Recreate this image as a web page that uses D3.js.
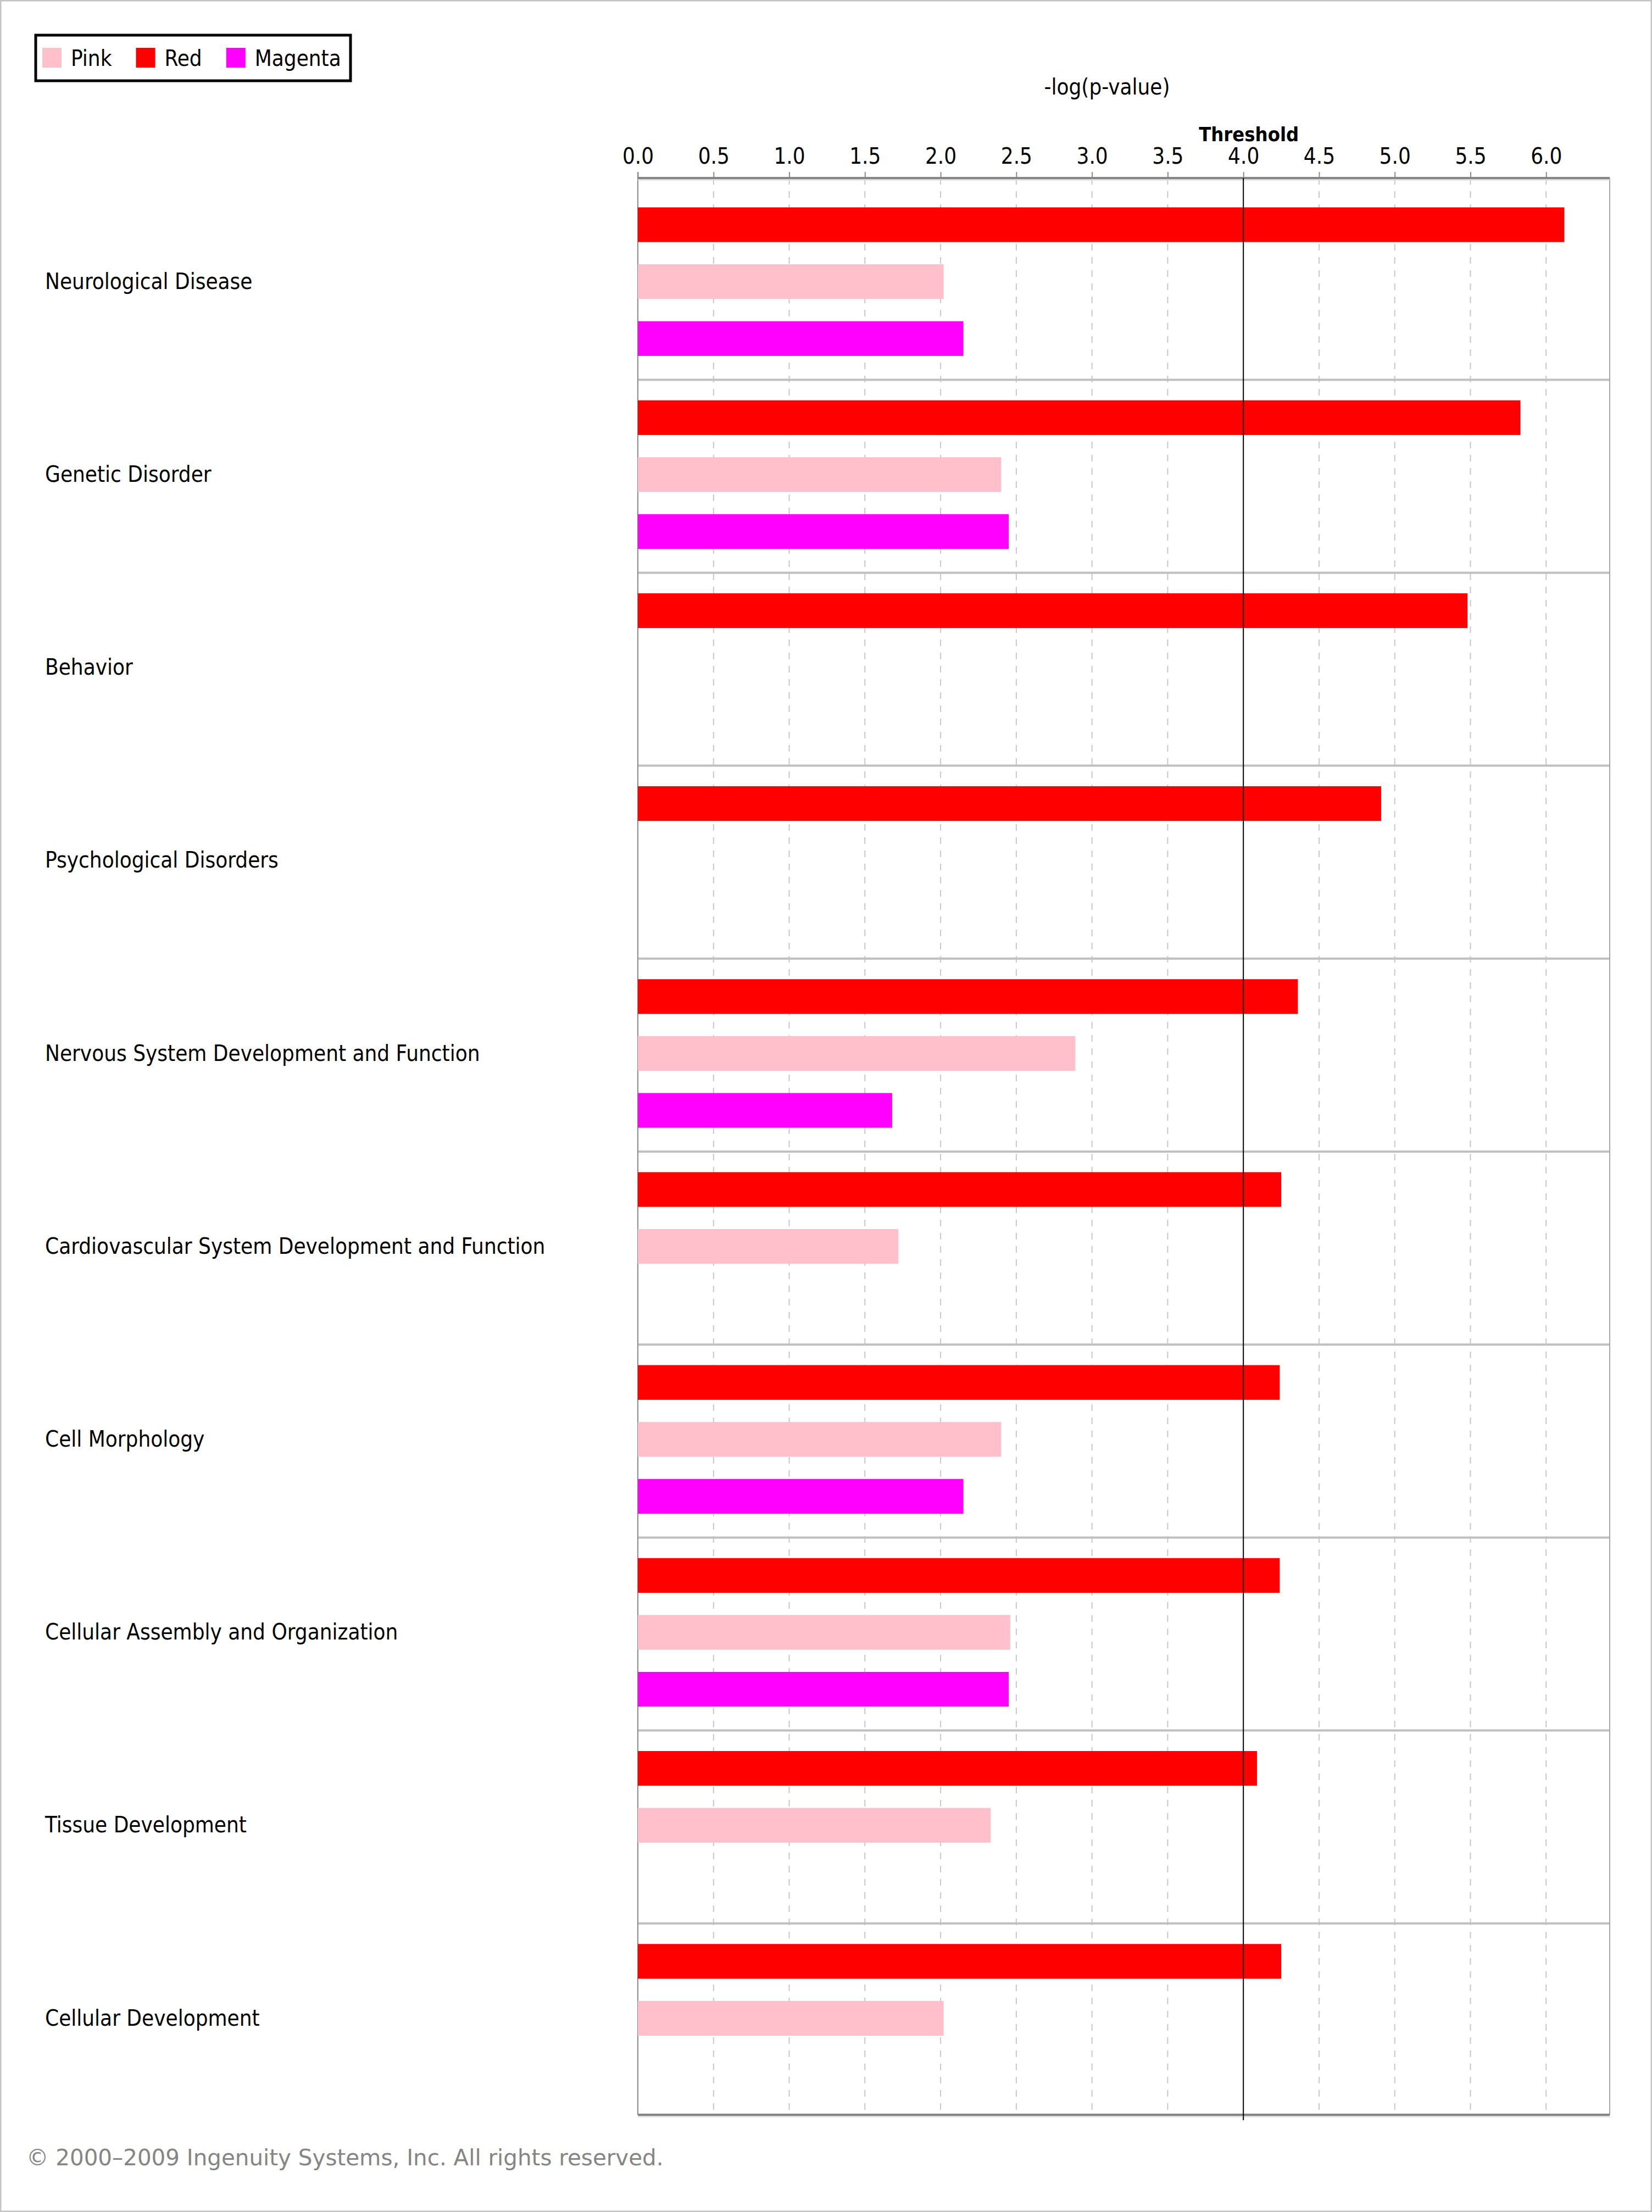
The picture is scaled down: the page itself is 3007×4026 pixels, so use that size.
<!DOCTYPE html>
<html>
<head>
<meta charset="utf-8">
<script src="https://cdn.jsdelivr.net/npm/d3@7"></script>
<style>
  body { margin: 0; background: #fff; }
  .cond { font-family: "DejaVu Sans Condensed", "DejaVu Sans", sans-serif; font-stretch: condensed; }
</style>
</head>
<body>
<svg id="chart" width="3007" height="4026"></svg>
<script>
// categories, top to bottom
const categories = [
  "Neurological Disease",
  "Genetic Disorder",
  "Behavior",
  "Psychological Disorders",
  "Nervous System Development and Function",
  "Cardiovascular System Development and Function",
  "Cell Morphology",
  "Cellular Assembly and Organization",
  "Tissue Development",
  "Cellular Development"
];

// -log(p-value) per series (null = no bar)
const redValues     = [6.12, 5.83, 5.48, 4.91, 4.36, 4.25, 4.24, 4.24, 4.09, 4.25];
const pinkValues    = [2.02, 2.40, null, null, 2.89, 1.72, 2.40, 2.46, 2.33, 2.02];
const magentaValues = [2.15, 2.45, null, null, 1.68, null, 2.15, 2.45, null, null];

const seriesOrder = ["Red", "Pink", "Magenta"];   // order of bars inside a row
const legendKeys  = ["Pink", "Red", "Magenta"];    // order in the legend box
const seriesColor = { Pink: "#ffc0cb", Red: "#ff0000", Magenta: "#ff00ff" };

const tickValues = [0, 0.5, 1, 1.5, 2, 2.5, 3, 3.5, 4, 4.5, 5, 5.5, 6];
const threshold = 4.0;
const xTitle = "-log(p-value)";
const thresholdLabel = "Threshold";
const copyright = "\u00a9 2000\u20132009 Ingenuity Systems, Inc. All rights reserved.";

const W = 3007, H = 4026;
const plot = { left: 1161, right: 2930, top: 324, bottom: 3849 };

const svg = d3.select("#chart");

// outer frame
svg.append("rect")
  .attr("x", 1).attr("y", 1).attr("width", W - 2).attr("height", H - 2)
  .attr("fill", "#fff").attr("stroke", "#c4c4c4").attr("stroke-width", 3);

const x = d3.scaleLinear().domain([0, 6.42]).range([plot.left, plot.right]);

const y = d3.scaleBand().domain(categories).range([337, plot.bottom]);
const ySub = d3.scaleBand().domain(seriesOrder).range([0, y.bandwidth()])
  .paddingInner(0.39).paddingOuter(0.39);

const rows = categories.map((c, i) => ({
  cat: c,
  bars: [
    { s: "Red", v: redValues[i] },
    { s: "Pink", v: pinkValues[i] },
    { s: "Magenta", v: magentaValues[i] }
  ].filter(b => b.v != null)
}));

// dashed vertical gridlines
svg.append("g").selectAll("line")
  .data(tickValues.filter(t => t > 0 && t !== threshold))
  .join("line")
  .attr("x1", d => x(d)).attr("x2", d => x(d))
  .attr("y1", plot.top).attr("y2", plot.bottom)
  .attr("stroke", "#c8c8c8").attr("stroke-width", 2)
  .attr("stroke-dasharray", "12,12");

// row separators
svg.append("g").selectAll("line")
  .data(categories.slice(1))
  .join("line")
  .attr("x1", plot.left).attr("x2", plot.right)
  .attr("y1", d => y(d) + 3).attr("y2", d => y(d) + 3)
  .attr("stroke", "#c0c0c0").attr("stroke-width", 4);

// right border and left axis line
svg.append("line")
  .attr("x1", plot.right).attr("x2", plot.right)
  .attr("y1", plot.top).attr("y2", plot.bottom)
  .attr("stroke", "#a8a8a8").attr("stroke-width", 2);
svg.append("line")
  .attr("x1", plot.left).attr("x2", plot.left)
  .attr("y1", plot.top - 11).attr("y2", plot.bottom)
  .attr("stroke", "#8a8a8a").attr("stroke-width", 2);

// bars
const rowG = svg.append("g").selectAll("g")
  .data(rows)
  .join("g")
  .attr("transform", d => `translate(0,${y(d.cat)})`);

rowG.selectAll("rect")
  .data(d => d.bars)
  .join("rect")
  .attr("x", x(0))
  .attr("y", d => ySub(d.s))
  .attr("width", d => x(d.v) - x(0))
  .attr("height", ySub.bandwidth())
  .attr("fill", d => seriesColor[d.s]);

// category labels
svg.append("g").selectAll("text")
  .data(categories)
  .join("text")
  .attr("class", "cond")
  .attr("x", 82)
  .attr("y", d => y(d) + y.bandwidth() / 2)
  .attr("dy", "0.33em")
  .attr("font-size", 40)
  .attr("fill", "#000")
  .text(d => d);

// top axis
const axisTop = d3.axisTop(x)
  .tickValues(tickValues)
  .tickFormat(d3.format(".1f"))
  .tickSize(11)
  .tickPadding(15);

const gx = svg.append("g")
  .attr("transform", `translate(0,${plot.top})`)
  .call(axisTop);
gx.select(".domain").remove();
gx.selectAll(".tick line").attr("stroke", "#8a8a8a").attr("stroke-width", 2);
gx.selectAll(".tick text")
  .attr("class", "cond")
  .attr("font-size", 40)
  .attr("fill", "#000");

// thick top and bottom axis rules
[plot.top, plot.bottom].forEach(yy => {
  svg.append("line")
    .attr("x1", plot.left).attr("x2", plot.right)
    .attr("y1", yy + 3).attr("y2", yy + 3)
    .attr("stroke", "#dcdcdc").attr("stroke-width", 3);
  svg.append("line")
    .attr("x1", plot.left).attr("x2", plot.right)
    .attr("y1", yy).attr("y2", yy)
    .attr("stroke", "#858585").attr("stroke-width", 4);
});

// threshold line
svg.append("line")
  .attr("x1", x(threshold)).attr("x2", x(threshold))
  .attr("y1", plot.top).attr("y2", plot.bottom + 10)
  .attr("stroke", "#000").attr("stroke-width", 2);

svg.append("text")
  .attr("class", "cond")
  .attr("x", x(threshold) + 10)
  .attr("y", 257)
  .attr("text-anchor", "middle")
  .attr("font-size", 36)
  .attr("font-weight", "bold")
  .text(thresholdLabel);

// axis title
svg.append("text")
  .attr("class", "cond")
  .attr("x", 2015)
  .attr("y", 172)
  .attr("text-anchor", "middle")
  .attr("font-size", 40)
  .text(xTitle);

// legend
const legend = svg.append("g");
legend.append("rect")
  .attr("x", 65).attr("y", 64).attr("width", 573).attr("height", 83)
  .attr("fill", "#fff").attr("stroke", "#000").attr("stroke-width", 5);

let lx = 77;
legendKeys.forEach(k => {
  legend.append("rect")
    .attr("x", lx).attr("y", 87).attr("width", 35).attr("height", 36)
    .attr("fill", seriesColor[k]);
  const t = legend.append("text")
    .attr("class", "cond")
    .attr("x", lx + 52).attr("y", 120)
    .attr("font-size", 40)
    .text(k);
  lx = lx + 52 + t.node().getComputedTextLength() + 44;
});

// footer
svg.append("text")
  .attr("x", 48).attr("y", 3941)
  .attr("font-family", "DejaVu Sans, Verdana, sans-serif")
  .attr("font-size", 40.4)
  .attr("fill", "#858585")
  .text(copyright);
</script>
</body>
</html>
